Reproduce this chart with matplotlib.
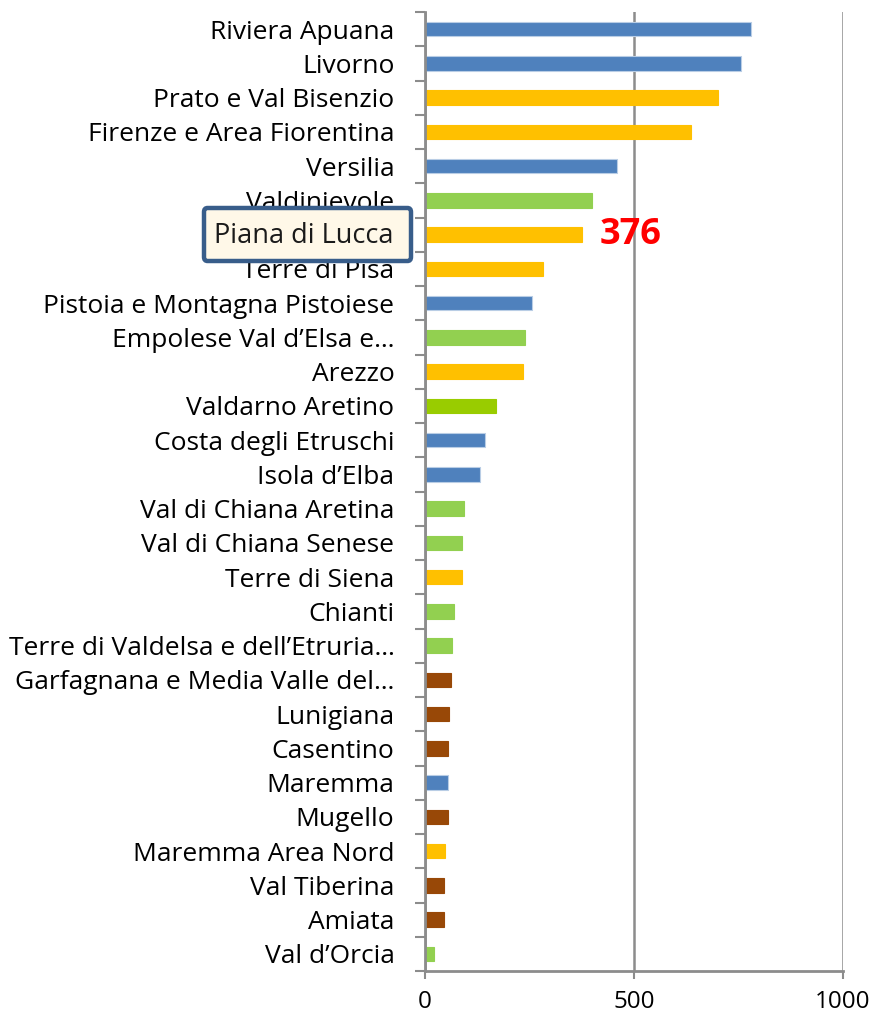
import matplotlib
matplotlib.use("Agg")
import matplotlib.pyplot as plt
from matplotlib.patches import FancyBboxPatch
import numpy as np

categories = [
    "Riviera Apuana", "Livorno", "Prato e Val Bisenzio", "Firenze e Area Fiorentina",
    "Versilia", "Valdinievole", "Piana di Lucca", "Terre di Pisa",
    "Pistoia e Montagna Pistoiese", "Empolese Val d\u2019Elsa e\u2026", "Arezzo",
    "Valdarno Aretino", "Costa degli Etruschi", "Isola d\u2019Elba",
    "Val di Chiana Aretina", "Val di Chiana Senese", "Terre di Siena", "Chianti",
    "Terre di Valdelsa e dell\u2019Etruria\u2026", "Garfagnana e Media Valle del\u2026",
    "Lunigiana", "Casentino", "Maremma", "Mugello", "Maremma Area Nord",
    "Val Tiberina", "Amiata", "Val d\u2019Orcia",
]
values = [781, 756, 701, 636, 460, 400, 376, 282, 256, 239, 234, 170, 143, 131,
          93, 89, 89, 69, 65, 62, 57, 55, 54, 55, 48, 45, 45, 21]
groups = ["blue", "blue", "orange", "orange", "blue", "green", "orange", "orange",
          "blue", "green", "orange", "lime", "blue", "blue", "green", "green",
          "orange", "green", "green", "brown", "brown", "brown", "blue", "brown",
          "orange", "brown", "brown", "green"]
xticks = [0, 500, 1000]
highlight = "Piana di Lucca"
highlight_value = "376"

palette = {"blue": "#4F81BD", "orange": "#FFC000", "green": "#92D050",
           "lime": "#99CC00", "brown": "#984807"}

plt.rcParams['font.family'] = ['Open Sans', 'DejaVu Sans']

fig = plt.figure(figsize=(8.73, 10.16), dpi=100)
ax = fig.add_axes([425/873, 1-971/1016, (843-425)/873, (971-12)/1016])

n = len(categories)
y = np.arange(n)
colors = [palette[g] for g in groups]
edges = ["#B9CDE5" if g == "blue" else c for g, c in zip(groups, colors)]
ax.barh(y, values, height=0.42, color=colors, edgecolor=edges, linewidth=0.8, zorder=3)

ax.set_ylim(n - 0.5, -0.5)
ax.set_xlim(0, 1000)

labels = ["" if c == highlight else c for c in categories]
ax.set_yticks(y)
ax.set_yticklabels(labels, fontsize=19, color="#000000")
ax.tick_params(axis="y", which="major", length=0, pad=22)
ax.set_yticks(np.arange(-0.5, n, 1.0), minor=True)
ax.tick_params(axis="y", which="minor", length=7.5, width=1.5, color="#8C8C8C", direction="out")

ax.set_xticks(xticks)
ax.set_xticklabels([str(t) for t in xticks], fontsize=17.5)
ax.tick_params(axis="x", which="major", length=6, width=1.5, color="#8C8C8C", pad=8)
ax.grid(axis="x", color="#8C8C8C", linewidth=1.8, zorder=0)
ax.set_axisbelow(True)

for s in ["top", "right"]:
    ax.spines[s].set_visible(False)
for s in ["left", "bottom"]:
    ax.spines[s].set_color("#8C8C8C")
    ax.spines[s].set_linewidth(2.0)
    ax.spines[s].set_zorder(4)

# highlight box over the label
box = FancyBboxPatch((204/873, 1-261/1016), 207/873, 53/1016,
                     boxstyle="round,pad=0,rounding_size=0.004",
                     transform=fig.transFigure, facecolor="#FFF8E8",
                     edgecolor="#385D8A", linewidth=3.2, zorder=5, clip_on=False)
ax.add_patch(box)
hi = categories.index(highlight)
ax.text(393/873, 1-236/1016, highlight, transform=fig.transFigure,
        ha="right", va="center", fontsize=19.5, color="#1A1A1A", zorder=6, clip_on=False)
ax.text(values[hi] + 42, hi, highlight_value, ha="left", va="center",
        fontsize=26, fontweight="bold", color="#FF0000", zorder=6)

fig.savefig("out.png", dpi=100)
